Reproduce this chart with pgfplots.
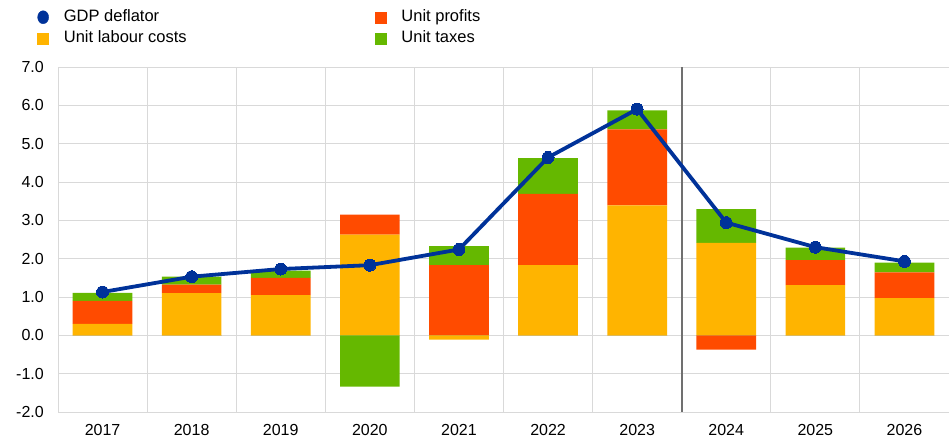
\documentclass[border=0pt]{standalone}
\usepackage{fontspec}
\setmainfont{Liberation Sans}
\usepackage{pgfplots}
\pgfplotsset{compat=1.18}
\usepackage{pgfplotstable}
\definecolor{deflblue}{HTML}{003299}
\definecolor{ulcY}{HTML}{FFB400}
\definecolor{profO}{HTML}{FF4B00}
\definecolor{taxG}{HTML}{65B800}
\definecolor{gridG}{HTML}{D9D9D9}
\definecolor{sepG}{HTML}{707070}

% positive components
\pgfplotstableread{
x ulc prof tax
0 0.30 0.60 0.21
1 1.10 0.22 0.21
2 1.05 0.45 0.19
3 2.63 0.52 0.00
4 0.00 1.83 0.50
5 1.83 1.86 0.93
6 3.39 1.98 0.50
7 2.41 0.00 0.88
8 1.31 0.65 0.33
9 0.97 0.67 0.26
}\postab
% negative components
\pgfplotstableread{
x ulc prof tax
0 0.00 0.00 0.00
1 0.00 0.00 0.00
2 0.00 0.00 0.00
3 0.00 0.00 -1.34
4 -0.11 0.00 0.00
5 0.00 0.00 0.00
6 0.00 0.00 0.00
7 0.00 -0.37 0.00
8 0.00 0.00 0.00
9 0.00 0.00 0.00
}\negtab
% GDP deflator
\pgfplotstableread{
x defl
0 1.13
1 1.53
2 1.73
3 1.83
4 2.24
5 4.64
6 5.90
7 2.94
8 2.30
9 1.93
}\defltab

\pgfplotsset{
  base/.style={
    scale only axis, width=891bp, height=345bp,
    xmin=-0.5, xmax=9.5, ymin=-2, ymax=7,
    at={(0,0)}, anchor=south west,
  },
  lgd/.style={
    legend style={draw=none, fill=none, inner sep=0pt, outer sep=0pt,
      row sep=6bp, column sep=15bp,
      nodes={inner sep=0pt, anchor=west, text height=12bp, text depth=3bp},
      font=\fontsize{16.5bp}{18bp}\selectfont},
    legend cell align=left,
  },
}

\begin{document}
\begin{tikzpicture}
\begin{axis}[base, lgd,
  ybar stacked, bar width=0.67,
  axis line style={draw=none},
  major tick length=0pt, minor tick length=0pt,
  xtick={0,...,9},
  xticklabels={2017,2018,2019,2020,2021,2022,2023,2024,2025,2026},
  minor xtick={-0.5,0.5,...,9.5},
  ytick={-2,-1,...,7},
  ymajorgrids, xminorgrids,
  major grid style={gridG, line width=1bp},
  minor grid style={gridG, line width=1bp},
  ticklabel style={font=\fontsize{16bp}{18bp}\selectfont},
  /pgf/number format/assume math mode=true,
  yticklabel={\pgfmathprintnumber[fixed, fixed zerofill, precision=1]{\tick}},
  yticklabel style={inner sep=0pt, anchor=east, xshift=-14bp},
  xticklabel style={inner sep=0pt, anchor=north, yshift=-12bp},
  legend style={at={(axis description cs:-0.0236,1.166)}, anchor=north west},
]
\addlegendimage{legend image code/.code={\fill[deflblue] (6bp,0bp) ellipse (5.5bp and 6.5bp);}}
\addlegendimage{legend image code/.code={\fill[ulcY] (0bp,-5.5bp) rectangle (11bp,5.5bp);}}
\addplot[fill=ulcY, draw=none, forget plot] table[x=x, y=ulc] {\postab};
\addplot[fill=profO, draw=none, forget plot] table[x=x, y=prof] {\postab};
\addplot[fill=taxG, draw=none, forget plot] table[x=x, y=tax] {\postab};
\legend{GDP deflator, Unit labour costs}
\end{axis}

\begin{axis}[base, lgd, hide axis,
  ybar, bar width=0.67,
  legend style={at={(axis description cs:0.3558,1.166)}, anchor=north west},
]
\addlegendimage{legend image code/.code={\fill[profO] (0bp,-5.5bp) rectangle (11bp,5.5bp);}}
\addlegendimage{legend image code/.code={\fill[taxG] (0bp,-5.5bp) rectangle (11bp,5.5bp);}}
\addplot[fill=ulcY, draw=none, bar shift=0pt, forget plot] table[x=x, y=ulc] {\negtab};
\addplot[fill=profO, draw=none, bar shift=0pt, forget plot] table[x=x, y=prof] {\negtab};
\addplot[fill=taxG, draw=none, bar shift=0pt, forget plot] table[x=x, y=tax] {\negtab};
\addplot[sharp plot, sepG, line width=2bp, forget plot] coordinates {(6.5,-2) (6.5,7)};
\addplot[sharp plot, deflblue, line width=3.8bp, mark=*, mark size=6bp,
  mark options={fill=deflblue, draw=deflblue, line width=0pt}, forget plot]
  table[x=x, y=defl] {\defltab};
\legend{Unit profits, Unit taxes}
\end{axis}
\pgfresetboundingbox
\path[use as bounding box] (-58bp,-29bp) rectangle (891bp,412bp);
\end{tikzpicture}
\end{document}
